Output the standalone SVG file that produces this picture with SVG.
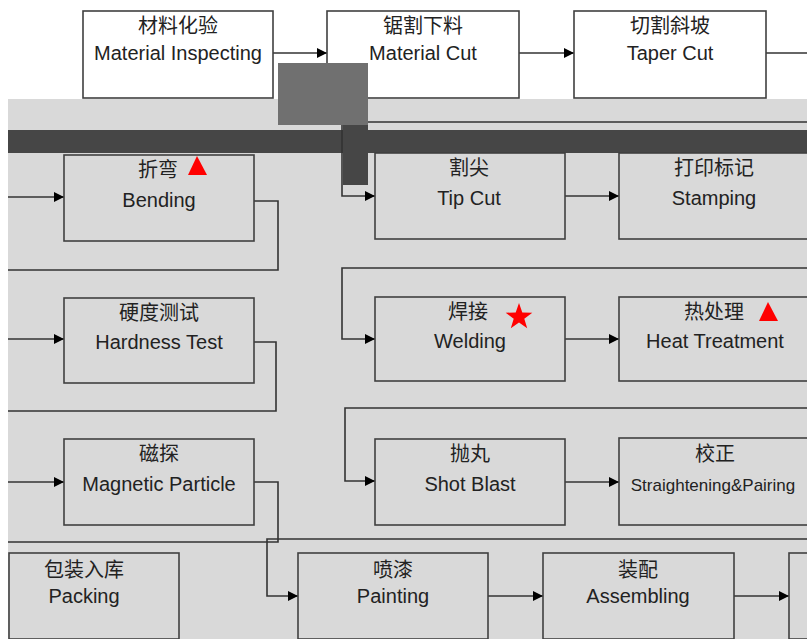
<svg xmlns="http://www.w3.org/2000/svg" width="807" height="639" viewBox="0 0 807 639">
<style>
.box{fill:none;stroke:#404040;stroke-width:1.6}
.cn{fill:none;stroke:#333;stroke-width:1.6}
.zh{font-family:"Liberation Sans","Noto Sans CJK SC",sans-serif;font-size:20px;fill:#222;text-anchor:middle}
.en{font-family:"Liberation Sans","Noto Sans CJK SC",sans-serif;font-size:20px;fill:#222;text-anchor:middle}
.mk{fill:#ff0000}
</style>
<defs>
<marker id="arr" viewBox="0 0 10 10" refX="10" refY="5" markerWidth="10" markerHeight="10" markerUnits="userSpaceOnUse" orient="auto">
<path d="M0,0 L10,5 L0,10 Z" fill="#000"/>
</marker>
</defs>
<g id="background">
<rect x="0" y="0" width="807" height="639" fill="#ffffff"/>
<rect x="8" y="99" width="799" height="540" fill="#d9d9d9"/>
<rect x="8" y="130" width="799" height="23" fill="#464646"/>
<rect x="343" y="125" width="25" height="60" fill="#464646"/>
</g>
<g id="connectors">
<path class="cn" d="M273,53 H327" marker-end="url(#arr)"/>
<path class="cn" d="M519,53 H574" marker-end="url(#arr)"/>
<path class="cn" d="M766,53 H807"/>
<path class="cn" d="M807,122 H342 V196 H375" marker-end="url(#arr)"/>
<path class="cn" d="M565,196 H619" marker-end="url(#arr)"/>
<path class="cn" d="M8,197 H64" marker-end="url(#arr)"/>
<path class="cn" d="M254,201 H278 V270 H8"/>
<path class="cn" d="M8,339 H64" marker-end="url(#arr)"/>
<path class="cn" d="M254,342 H276 V411 H8"/>
<path class="cn" d="M8,482 H64" marker-end="url(#arr)"/>
<path class="cn" d="M254,482 H278 V542 H8"/>
<path class="cn" d="M807,268 H342 V339 H375" marker-end="url(#arr)"/>
<path class="cn" d="M565,339 H619" marker-end="url(#arr)"/>
<path class="cn" d="M807,408 H345 V481 H375" marker-end="url(#arr)"/>
<path class="cn" d="M565,482 H619" marker-end="url(#arr)"/>
<path class="cn" d="M807,539 H267 V596 H298" marker-end="url(#arr)"/>
<path class="cn" d="M488,596 H543" marker-end="url(#arr)"/>
<path class="cn" d="M734,596 H789" marker-end="url(#arr)"/>
</g>
<g id="n-inspect"><rect class="box" x="83" y="11" width="190" height="87"/><text class="zh" x="178" y="33">材料化验</text><text class="en" x="178" y="60">Material Inspecting</text></g>
<g id="n-cut"><rect class="box" x="327" y="11" width="192" height="87"/><text class="zh" x="423" y="33">锯割下料</text><text class="en" x="423" y="60">Material Cut</text></g>
<g id="n-taper"><rect class="box" x="574" y="11" width="192" height="87"/><text class="zh" x="670" y="33">切割斜坡</text><text class="en" x="670" y="60">Taper Cut</text></g>
<rect id="shade" x="278" y="63" width="90" height="62" fill="#707070"/>
<g id="n-bending"><rect class="box" x="64" y="155" width="190" height="86"/><text class="zh" x="158" y="177">折弯</text><text class="en" x="159" y="207">Bending</text><polygon class="mk" points="197,156 188,175 207,175"/></g>
<g id="n-hardness"><rect class="box" x="64" y="298" width="190" height="85"/><text class="zh" x="159" y="320">硬度测试</text><text class="en" x="159" y="349">Hardness Test</text></g>
<g id="n-magnetic"><rect class="box" x="64" y="439" width="190" height="86"/><text class="zh" x="159" y="461">磁探</text><text class="en" x="159" y="491">Magnetic Particle</text></g>
<g id="n-tipcut"><rect class="box" x="375" y="153" width="190" height="86"/><text class="zh" x="469" y="175">割尖</text><text class="en" x="469" y="205">Tip Cut</text></g>
<g id="n-stamping"><rect class="box" x="619" y="153" width="190" height="86"/><text class="zh" x="714" y="175">打印标记</text><text class="en" x="714" y="205">Stamping</text></g>
<g id="n-welding"><rect class="box" x="375" y="297" width="190" height="84"/><text class="zh" x="468" y="319">焊接</text><text class="en" x="470" y="348">Welding</text><polygon class="mk" points="519,303 522.3,312.5 532.3,312.7 524.3,318.7 527.2,328.3 519,322.6 510.8,328.3 513.7,318.7 505.7,312.7 515.7,312.5"/></g>
<g id="n-heat"><rect class="box" x="619" y="297" width="190" height="84"/><text class="zh" x="714" y="319">热处理</text><text class="en" x="715" y="348">Heat Treatment</text><polygon class="mk" points="768,302 759,321 778,321"/></g>
<g id="n-shot"><rect class="box" x="375" y="439" width="190" height="86"/><text class="zh" x="470" y="461">抛丸</text><text class="en" x="470" y="491">Shot Blast</text></g>
<g id="n-straight"><rect class="box" x="619" y="438" width="190" height="87"/><text class="zh" x="715" y="461">校正</text><text class="en" x="713" y="491" style="font-size:17px">Straightening&amp;Pairing</text></g>
<g id="n-packing"><rect class="box" x="9" y="553" width="170" height="86"/><text class="zh" x="84" y="577">包装入库</text><text class="en" x="84" y="603">Packing</text></g>
<g id="n-painting"><rect class="box" x="298" y="553" width="190" height="86"/><text class="zh" x="393" y="577">喷漆</text><text class="en" x="393" y="603">Painting</text></g>
<g id="n-assembling"><rect class="box" x="543" y="553" width="191" height="86"/><text class="zh" x="638" y="577">装配</text><text class="en" x="638" y="603">Assembling</text></g>
<g id="n-next"><rect class="box" x="789" y="553" width="190" height="86"/></g>
</svg>
